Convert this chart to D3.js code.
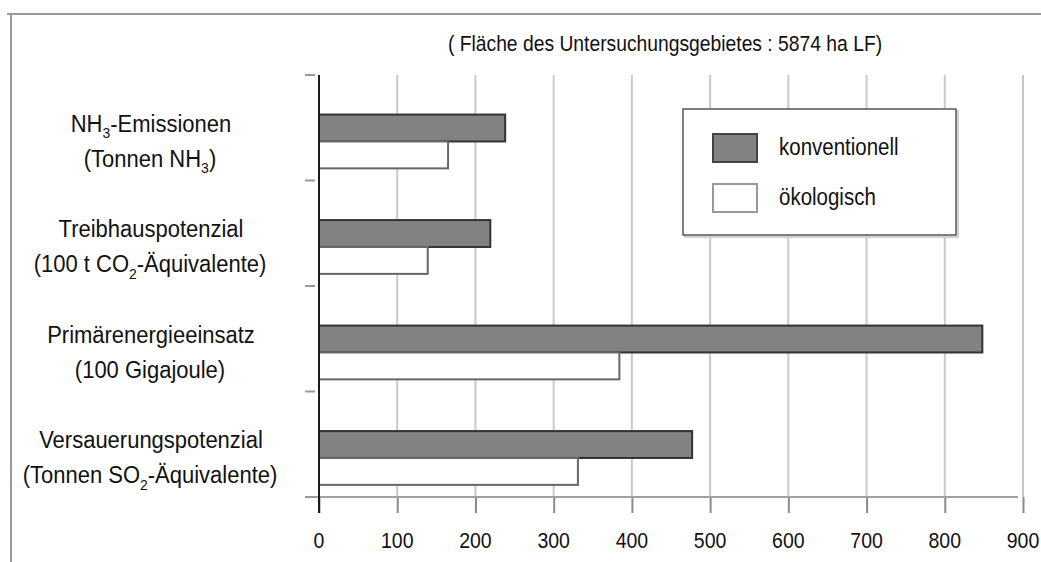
<!DOCTYPE html>
<html lang="de">
<head>
<meta charset="utf-8">
<title>Umweltwirkungen konventionell / ökologisch</title>
<script src="https://cdn.jsdelivr.net/npm/d3@7"></script>
<style>
  body { margin: 0; background: #fff; }
  svg { display: block; }
  text { font-family: "Liberation Sans", Arial, sans-serif; fill: #111; }
</style>
</head>
<body>
<script>
// data
var categories = ["NH3", "THG", "PE", "SO2"];
var labelLine1 = [
  [["NH", ""], ["3", "sub"], ["-Emissionen", ""]],
  [["Treibhauspotenzial", ""]],
  [["Primärenergieeinsatz", ""]],
  [["Versauerungspotenzial", ""]]
];
var labelLine2 = [
  [["(Tonnen NH", ""], ["3", "sub"], [")", ""]],
  [["(100 t CO", ""], ["2", "sub"], ["-Äquivalente)", ""]],
  [["(100 Gigajoule)", ""]],
  [["(Tonnen SO", ""], ["2", "sub"], ["-Äquivalente)", ""]]
];
var konventionell = [238, 219, 848, 477];
var oekologisch = [165, 139, 384, 331];
var seriesNames = ["konventionell", "ökologisch"];
var xTicks = [0, 100, 200, 300, 400, 500, 600, 700, 800, 900];
var title = "( Fläche des Untersuchungsgebietes : 5874 ha LF)";

var w = 1041, h = 562;
var svg = d3.select("body").append("svg").attr("width", w).attr("height", h);

var x = d3.scaleLinear().domain([0, 900]).range([319, 1023]);
var y = d3.scaleBand().domain(categories).range([75, 497]).paddingInner(0).paddingOuter(0);
var bw = y.bandwidth();
var barOff = 0.375 * bw, barH = 0.255 * bw;

// frame (top + left only visible)
svg.append("line").attr("x1", 7).attr("x2", w).attr("y1", 14).attr("y2", 14)
   .attr("stroke", "#9a9a9a").attr("stroke-width", 2);
svg.append("line").attr("x1", 11).attr("x2", 11).attr("y1", 14).attr("y2", h)
   .attr("stroke", "#9a9a9a").attr("stroke-width", 2);

// stretched text helper
function stext(g, tx, ty, size, sy, anchor) {
  return g.append("g").attr("transform", "translate(" + tx + "," + ty + ") scale(1," + sy + ")")
    .append("text").attr("font-size", size).attr("text-anchor", anchor || "middle")
    .attr("dominant-baseline", "middle");
}

stext(svg, 665, 45, 19.3, 1.15).text(title);

// gridlines
svg.append("g").selectAll("line").data(xTicks.slice(1)).enter().append("line")
   .attr("x1", d => x(d)).attr("x2", d => x(d))
   .attr("y1", 75).attr("y2", 497)
   .attr("stroke", "#c9c9c9").attr("stroke-width", 2);

// bottom axis
var xAxis = d3.axisBottom(x).tickValues(xTicks).tickSize(16).tickFormat("");
var ax = svg.append("g").attr("transform", "translate(0,497)").call(xAxis);
ax.select(".domain").remove();
ax.selectAll(".tick line").attr("stroke", "#8a8a8a").attr("stroke-width", 2);
svg.append("line").attr("x1", 305).attr("x2", 1018).attr("y1", 497).attr("y2", 497)
   .attr("stroke", "#a0a0a0").attr("stroke-width", 2);
xTicks.forEach(function(t) {
  stext(svg, x(t), 542, 19.5, 1.12).text(t);
});

// left ticks
var yTickPos = categories.map(c => y(c)).concat([497]);
svg.append("g").selectAll("line").data(yTickPos).enter().append("line")
   .attr("x1", 305).attr("x2", 315).attr("y1", d => d).attr("y2", d => d)
   .attr("stroke", "#999").attr("stroke-width", 2);

// bars
var bars = svg.append("g");
bars.selectAll("rect.k").data(konventionell).enter().append("rect").attr("class", "k")
   .attr("x", x(0)).attr("y", (d, i) => y(categories[i]) + barOff)
   .attr("width", d => x(d) - x(0)).attr("height", barH)
   .attr("fill", "#828282").attr("stroke", "#333").attr("stroke-width", 2);
bars.selectAll("rect.o").data(oekologisch).enter().append("rect").attr("class", "o")
   .attr("x", x(0)).attr("y", (d, i) => y(categories[i]) + barOff + barH)
   .attr("width", d => x(d) - x(0)).attr("height", barH)
   .attr("fill", "#fff").attr("stroke", "#666").attr("stroke-width", 2);

// y axis line
svg.append("line").attr("x1", x(0)).attr("x2", x(0)).attr("y1", 75).attr("y2", 513)
   .attr("stroke", "#1a1a1a").attr("stroke-width", 2);

// category labels
function writeParts(t, parts) {
  parts.forEach(function(p) {
    var ts = t.append("tspan").text(p[0]);
    if (p[1] === "sub") ts.attr("font-size", 14).attr("baseline-shift", "sub");
  });
}
categories.forEach(function(c, i) {
  var cy = y(c) + barOff + barH;
  writeParts(stext(svg, 151, cy - 16, 22, 1.1), labelLine1[i]);
  writeParts(stext(svg, 150, cy + 19, 22, 1.1), labelLine2[i]);
});

// legend
var leg = svg.append("g");
leg.append("rect").attr("x", 685).attr("y", 111).attr("width", 273).attr("height", 126)
   .attr("fill", "none").attr("stroke", "#d0d0d0").attr("stroke-width", 2);
leg.append("rect").attr("x", 683).attr("y", 109).attr("width", 273).attr("height", 126)
   .attr("fill", "#fff").attr("stroke", "#555").attr("stroke-width", 1.5);
var swFill = ["#828282", "#fff"], swStroke = ["#444", "#999"];
seriesNames.forEach(function(s, i) {
  leg.append("rect").attr("x", 713).attr("y", 134 + i * 50).attr("width", 44).attr("height", 28)
     .attr("fill", swFill[i]).attr("stroke", swStroke[i]).attr("stroke-width", 2);
  stext(leg, 779, 148 + i * 50, 20.5, 1.2, "start").text(s);
});
</script>
</body>
</html>
